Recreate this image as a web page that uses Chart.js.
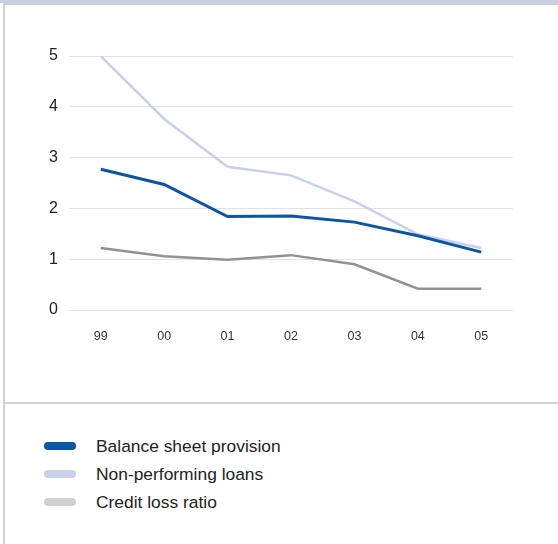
<!DOCTYPE html>
<html>
<head>
<meta charset="utf-8">
<script src="https://cdn.jsdelivr.net/npm/chart.js@4.4.1/dist/chart.umd.min.js"></script>
<style>
  html, body { margin: 0; padding: 0; background: #fff; }
  body { width: 558px; height: 544px; position: relative; overflow: hidden; font-family: "Liberation Sans", Arial, sans-serif; }
  #topband { position: absolute; left: 0; top: 0; width: 558px; height: 3px; background: #c9d0e6; }
  #frame { position: absolute; left: 3px; top: 3px; width: 555px; height: 541px; border-top: 2px solid #cfcfcf; border-left: 2px solid #d2d2d2; box-sizing: border-box; }
  #divider { position: absolute; left: 5px; top: 402px; width: 553px; height: 2px; background: #d2d2d2; }
  #chartbox { position: absolute; left: 5px; top: 5px; width: 553px; height: 397px; }
  #legend { position: absolute; left: 44px; top: 432px; }
  .item { height: 28px; display: flex; align-items: center; font-size: 17.4px; color: #222; }
  .swatch { width: 32px; height: 8px; border-radius: 4px; margin-right: 20px; }
</style>
</head>
<body>
<div id="topband"></div>
<div id="frame"></div>
<div id="divider"></div>
<div id="chartbox"><canvas id="mycanvas"></canvas></div>
<div id="legend"></div>

<script>
// years on the x axis
var years = ['99', '00', '01', '02', '03', '04', '05'];

var balanceSheetProvision = [2.77, 2.47, 1.84, 1.85, 1.73, 1.46, 1.14];
var nonPerformingLoans = [5.0, 3.76, 2.82, 2.65, 2.14, 1.49, 1.22];
var creditLossRatio = [1.22, 1.06, 0.99, 1.08, 0.90, 0.42, 0.42];

var seriesNames = ['Balance sheet provision', 'Non-performing loans', 'Credit loss ratio'];
var lineColors = ['#0b55a3', '#c9d0ea', '#929294'];
var legendColors = ['#0b55a3', '#c9d0ea', '#d0d0d2'];
var yTicks = [0, 1, 2, 3, 4, 5];

var ctx = document.getElementById('mycanvas');
var allData = [balanceSheetProvision, nonPerformingLoans, creditLossRatio];
var widths = [3, 2.5, 2.5];

var datasets = [];
for (var i = 0; i < seriesNames.length; i++) {
  datasets.push({
    label: seriesNames[i],
    data: allData[i],
    borderColor: lineColors[i],
    backgroundColor: lineColors[i],
    borderWidth: widths[i],
    pointRadius: 0,
    tension: 0,
    fill: false,
    order: i
  });
}

var lineChart = new Chart(ctx, {
  type: 'line',
  data: { labels: years, datasets: datasets },
  options: {
    responsive: true,
    maintainAspectRatio: false,
    animation: false,
    layout: { padding: { top: 51, right: 45, bottom: 0, left: 0 } },
    plugins: {
      legend: { display: false },
      tooltip: { enabled: false }
    },
    scales: {
      x: {
        offset: true,
        grid: { display: false },
        border: { display: false },
        ticks: { color: '#333', font: { family: 'Liberation Sans', size: 12.5 }, padding: 11 },
        afterFit: function(scale) { scale.height = 92; }
      },
      y: {
        min: 0,
        max: 5,
        afterBuildTicks: function(scale) {
          scale.ticks = yTicks.map(function(v) { return { value: v }; });
        },
        grid: { color: '#e2e2e2', lineWidth: 1, drawTicks: false },
        border: { display: false },
        ticks: { color: '#222', font: { family: 'Liberation Sans', size: 16 }, padding: 11 },
        afterFit: function(scale) { scale.width = 64; }
      }
    }
  }
});

// legend below the divider, built from the chart datasets
var legendBox = document.getElementById('legend');
lineChart.data.datasets.forEach(function(ds, i) {
  var row = document.createElement('div');
  row.className = 'item';
  var sw = document.createElement('span');
  sw.className = 'swatch';
  sw.style.background = legendColors[i];
  row.appendChild(sw);
  row.appendChild(document.createTextNode(ds.label));
  legendBox.appendChild(row);
});
</script>
</body>
</html>
